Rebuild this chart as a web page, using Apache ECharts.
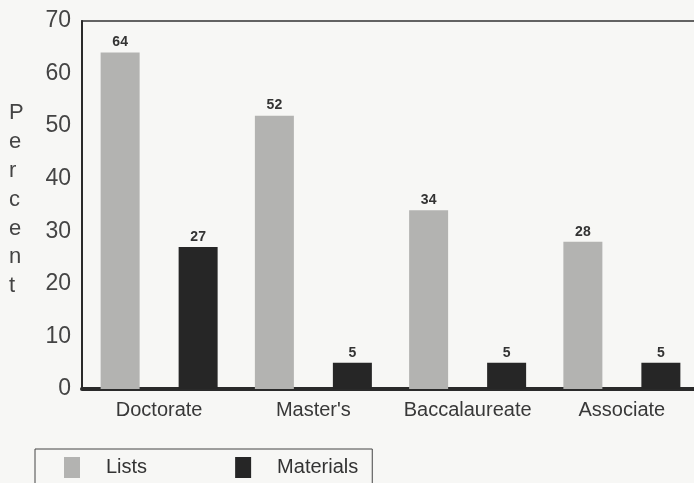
<!DOCTYPE html>
<html>
<head>
<meta charset="utf-8">
<script src="https://cdn.jsdelivr.net/npm/echarts@6/dist/echarts.min.js"></script>
<style>
  html, body { margin: 0; padding: 0; background: #f7f7f5; }
  #main { width: 694px; height: 483px; }
</style>
</head>
<body>
<div id="main"></div>
<script>
var categories = ['Doctorate', "Master's", 'Baccalaureate', 'Associate'];
var listsValues = [64, 52, 34, 28];
var materialsValues = [27, 5, 5, 5];
var yTicks = [0, 10, 20, 30, 40, 50, 60, 70];

var chart = echarts.init(document.getElementById('main'));

var labelStyle = {
    show: true,
    position: 'top',
    distance: 3,
    fontFamily: 'Liberation Sans',
    fontWeight: 'bold',
    fontSize: 14,
    color: '#333'
};

var option = {
    backgroundColor: '#f7f7f5',
    animation: false,
    grid: {
        left: 82, top: 21, width: 617, bottom: 94,
        outerBoundsMode: 'none',
        show: true,
        borderColor: '#333',
        borderWidth: 1.5
    },
    legend: {
        left: 35, top: 449,
        orient: 'horizontal',
        padding: [8, 14, 8, 29],
        borderColor: '#444',
        borderWidth: 1,
        itemWidth: 16,
        itemHeight: 21,
        itemGap: 88,
        icon: 'rect',
        textStyle: {
            fontFamily: 'Liberation Sans',
            fontSize: 20,
            color: '#333',
            padding: [0, 0, 0, 21]
        },
        data: ['Lists', 'Materials']
    },
    xAxis: {
        type: 'category',
        data: categories,
        axisLine: { lineStyle: { color: '#2a2a2a', width: 4 } },
        axisTick: { show: false },
        axisLabel: {
            interval: 0,
            fontFamily: 'Liberation Sans',
            fontSize: 20,
            color: '#383838',
            margin: 11
        }
    },
    yAxis: {
        type: 'value',
        min: yTicks[0],
        max: yTicks[yTicks.length - 1],
        interval: 10,
        axisLine: { show: true, lineStyle: { color: '#2a2a2a', width: 2 } },
        axisTick: { show: false },
        splitLine: { show: false },
        axisLabel: {
            fontFamily: 'Liberation Sans',
            fontSize: 23,
            color: '#444',
            margin: 11
        }
    },
    graphic: [{
        type: 'text',
        left: 9,
        top: 99,
        style: {
            text: 'P\ne\nr\nc\ne\nn\nt',
            fontFamily: 'Liberation Sans',
            fontSize: 22,
            lineHeight: 28.8,
            fill: '#444',
            align: 'center'
        }
    }],
    series: [{
        name: 'Lists',
        type: 'bar',
        data: listsValues,
        barWidth: 39,
        barGap: '100%',
        itemStyle: { color: '#b3b3b1' },
        label: labelStyle
    }, {
        name: 'Materials',
        type: 'bar',
        data: materialsValues,
        barWidth: 39,
        itemStyle: { color: '#262626' },
        label: labelStyle
    }]
};

chart.setOption(option);
</script>
</body>
</html>
